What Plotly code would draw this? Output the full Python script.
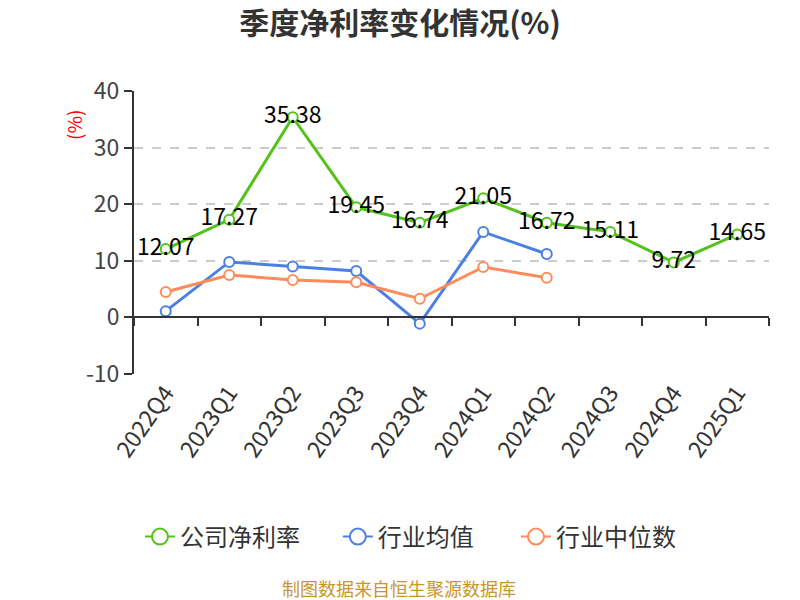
import plotly.graph_objects as go

categories = ["2022Q4", "2023Q1", "2023Q2", "2023Q3", "2023Q4", "2024Q1", "2024Q2", "2024Q3", "2024Q4", "2025Q1"]
company = [12.07, 17.27, 35.38, 19.45, 16.74, 21.05, 16.72, 15.11, 9.72, 14.65]
industry_avg = [1.1, 9.8, 9.0, 8.2, -1.1, 15.1, 11.2, None, None, None]
industry_med = [4.5, 7.5, 6.6, 6.2, 3.3, 8.9, 7.0, None, None, None]
y_ticks = [-10, 0, 10, 20, 30, 40]
y_tick_labels = ["-10", "0", "10", "20", "30", "40"]
series_names = ["公司净利率", "行业均值", "行业中位数"]

GREEN = "#55c21b"
BLUE = "#4a80e3"
ORANGE = "#ff8b5a"
FONT = "Noto Sans CJK SC, Noto Sans, sans-serif"

fig = go.Figure()

for name, vals, color in zip(series_names, [company, industry_avg, industry_med], [GREEN, BLUE, ORANGE]):
    fig.add_trace(go.Scatter(
        x=categories, y=vals, name=name, mode="lines+markers",
        line=dict(color=color, width=3),
        marker=dict(symbol="circle", size=10, color="white", line=dict(color=color, width=2)),
        connectgaps=False, showlegend=False,
    ))

# legend entries with larger symbols, one legend each
legend_ids = ["legend", "legend2", "legend3"]
for name, color, lg in zip(series_names, [GREEN, BLUE, ORANGE], legend_ids):
    fig.add_trace(go.Scatter(
        x=[None], y=[None], name=name, mode="lines+markers", legend=lg,
        line=dict(color=color, width=2),
        marker=dict(symbol="circle", size=21, color="white", line=dict(color=color, width=2)),
    ))

fig.add_trace(go.Scatter(
    x=categories, y=company, mode="text",
    text=[f"{v:.2f}" for v in company], textposition="middle center",
    textfont=dict(size=23, color="#000000", family=FONT),
    showlegend=False, hoverinfo="skip",
))

# helper axis for the zero-line axis with boundary ticks
fig.add_trace(go.Scatter(x=[-0.5, 9.5], y=[0, 0], xaxis="x2", mode="lines",
                         line=dict(width=0), showlegend=False, hoverinfo="skip"))

legend_style = dict(orientation="h", y=-0.576, yanchor="middle", xanchor="left",
                    font=dict(size=24, color="#333333"), bgcolor="rgba(0,0,0,0)")

fig.update_layout(
    width=800, height=600,
    margin=dict(l=134, r=31, t=91, b=226),
    paper_bgcolor="white", plot_bgcolor="white",
    font=dict(family=FONT, color="#333333"),
    title=dict(text="<b>季度净利率变化情况(%)</b>", x=0.5, xanchor="center", y=0.961, yanchor="middle",
               font=dict(size=30, color="#333333", family=FONT)),
    xaxis=dict(
        type="category", categoryorder="array", categoryarray=categories,
        range=[-0.5, 9.5], showline=False, showgrid=False, ticks="",
        tickangle=-55, tickfont=dict(size=23, color="#333333"),
    ),
    xaxis2=dict(
        overlaying="x", anchor="free", position=0.2, side="bottom",
        range=[-0.5, 9.5], tickmode="linear", tick0=-0.5, dtick=1,
        ticks="outside", ticklen=8, tickwidth=2, tickcolor="#333333",
        showticklabels=False, showgrid=False, showline=True, linecolor="#333333", linewidth=2,
        zeroline=False,
    ),
    yaxis=dict(
        range=[-10, 40], tickvals=y_ticks, ticktext=y_tick_labels,
        showline=True, linecolor="#333333", linewidth=2,
        ticks="outside", ticklen=8, tickwidth=2, tickcolor="#333333",
        tickfont=dict(size=23, color="#444444"),
        showgrid=True, gridcolor="#cccccc", griddash="dash", gridwidth=1.5,
        zeroline=False,
    ),
    legend=dict(x=0.0094, **legend_style),
    legend2=dict(x=0.321, **legend_style),
    legend3=dict(x=0.6016, **legend_style),
)

fig.add_annotation(text="(%)", textangle=-90, xref="paper", yref="paper",
                   x=-0.0945, y=0.88, xanchor="center", yanchor="middle",
                   showarrow=False, font=dict(size=19, color="#ff0000"))
fig.add_annotation(text="制图数据来自恒生聚源数据库", xref="paper", yref="paper",
                   x=0.418, y=-0.756, xanchor="center", yanchor="middle",
                   showarrow=False, font=dict(size=18, color="#c8962a"))

fig.write_html("out.html", config={"displayModeBar": False},
               post_script="document.body.style.margin='0';")
